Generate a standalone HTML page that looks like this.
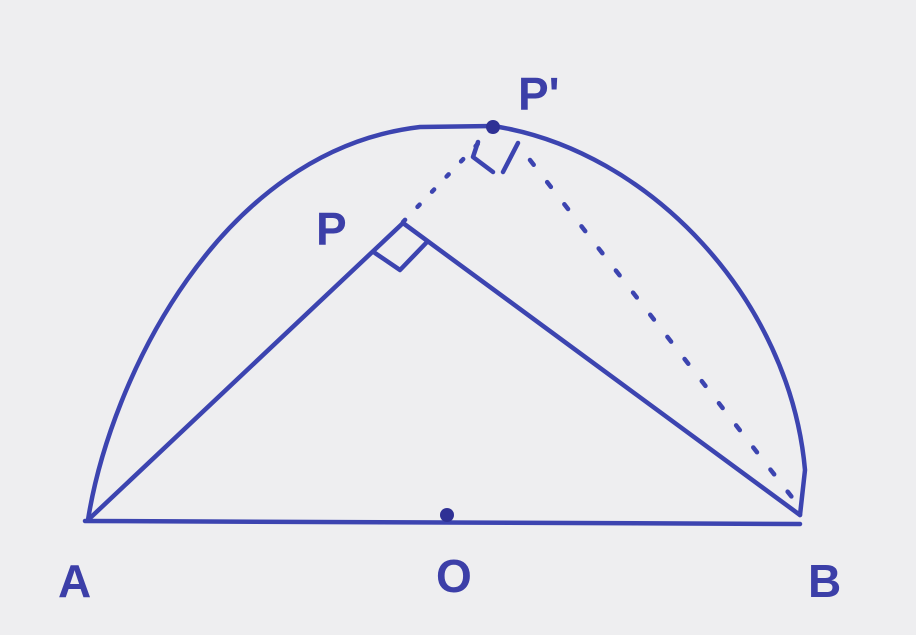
<!DOCTYPE html>
<html><head><meta charset="utf-8"><style>
html,body{margin:0;padding:0;background:#eeeef0;}
svg{display:block}
text{font-family:"Liberation Sans",sans-serif;fill:#3c3fa8;font-size:46px;font-weight:bold;}
</style></head><body>
<svg width="916" height="635" viewBox="0 0 916 635">
<rect width="916" height="635" fill="#eeeef0"/>
<g stroke="#3c44b0" stroke-width="4.5" fill="none" stroke-linecap="round" stroke-linejoin="round">
<path d="M88,520 C110,380 220,150 420,127 L493,126 C650,150 790,300 805,470 L800,515"/>
<path d="M85,521 L800,524"/>
<path d="M88,520 L403,223"/>
<path d="M403,223 L800,515"/>
<path d="M375,253 L400,270 L427,242"/>
<path d="M478,142 L473,157 L493,172 M518,143 L503,172"/>
<path stroke-dasharray="3 18" d="M403,222 L493,128"/>
<path stroke-dasharray="6 22" d="M530,160 L798,505"/>
</g>
<g fill="#2f3195">
<circle cx="493" cy="127" r="7"/>
<circle cx="447" cy="515" r="7"/>
</g>
<text x="58" y="597">A</text>
<text x="436" y="592">O</text>
<text x="808" y="597">B</text>
<text x="316" y="245">P</text>
<text x="518" y="110">P'</text>
</svg>
</body></html>
